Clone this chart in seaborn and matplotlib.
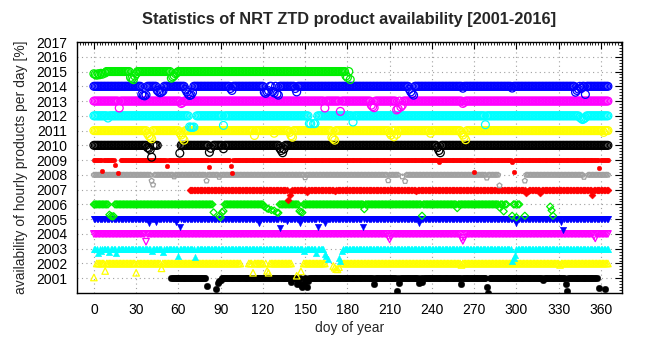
import numpy as np
import pandas as pd
import matplotlib
matplotlib.use("Agg")
import matplotlib.pyplot as plt
import seaborn as sns
from matplotlib.ticker import MultipleLocator

# Años y estilo de cada serie (orden de dibujo: 2001 -> 2015)
years = list(range(2001, 2016))
colors = ['#000000', '#ffff00', '#00ffff', '#ff00ff', '#0000ff', '#00ee00', '#ff0000',
          '#a0a0a0', '#ff0000', '#000000', '#ffff00', '#00ffff', '#ff00ff', '#0000ff', '#00ee00']
markers = ['o', '^', '^', 'v', 'v', 'D', 'D', 'p', 'o', 'o', 'o', 'o', 'o', 'o', 'o']
filled = [True, False, True, False, True, False, True, False, True,
          False, False, False, False, False, False]
sizes = [22, 22, 22, 22, 22, 13, 13, 14, 11, 32, 32, 32, 32, 32, 32]

# Días con disponibilidad completa (100 %): tramos (inicio, fin) por año
coverage = {
    2001: [(55, 79), (90, 357)],
    2002: [(2, 104), (110, 120), (122, 140), (149, 164), (176, 365)],
    2003: [(0, 163), (177, 365)],
    2004: [(0, 365)],
    2005: [(0, 365)],
    2006: [(0, 10), (15, 84), (93, 120), (132, 287), (289, 293), (298, 302)],
    2007: [(68, 365)],
    2008: [(0, 216), (222, 287), (307, 347), (351, 365)],
    2009: [(0, 14), (19, 365)],
    2010: [(0, 37), (42, 45), (62, 81), (85, 131), (136, 243), (247, 365)],
    2011: [(0, 365)],
    2012: [(0, 67), (73, 152), (159, 365)],
    2013: [(0, 365)],
    2014: [(0, 365)],
    2015: [(9, 182)],
}

# Días con disponibilidad reducida: (día, %)
dips = {
    2001: [(80, 47), (87, 30), (88, 70), (89, 80), (90, 88), (140, 75), (144, 60), (145, 80),
           (147, 55), (148, 40), (149, 65), (151, 40), (152, 78), (199, 58), (215, 13), (217, 70),
           (231, 70), (233, 72), (261, 63), (279, 40), (280, 2), (319, 85), (335, 63), (336, 13),
           (359, 35), (363, 24)],
    2002: [(0, 5), (8, 49), (30, 37), (48, 67), (113, 37), (123, 50), (124, 37), (144, 17),
           (147, 47), (170, 83), (171, 72), (172, 62), (173, 60), (174, 75), (261, 90), (331, 90)],
    2003: [(3, 73), (5, 85), (11, 80), (16, 68), (41, 85), (49, 76), (60, 50), (72, 44),
           (149, 87), (158, 73), (164, 67), (165, 52), (166, 33), (174, 40), (175, 17),
           (176, 85), (297, 17), (298, 35), (299, 55)],
    2004: [(37, 47), (209, 80), (210, 63), (211, 85), (261, 70), (262, 53), (263, 75),
           (355, 85), (356, 70)],
    2005: [(39, 75), (44, 80), (58, 78), (61, 48), (117, 72), (132, 42), (137, 85), (146, 76),
           (159, 47), (164, 72), (191, 45), (231, 72), (300, 75), (332, 78), (333, 26)],
    2006: [(11, 30), (12, 22), (13, 18), (14, 20), (85, 46), (89, 20), (90, 12), (91, 46),
           (92, 55), (121, 85), (123, 72), (124, 70), (126, 62), (128, 58), (130, 45), (131, 43),
           (146, 55), (147, 50), (148, 45), (192, 68), (233, 23), (258, 75), (288, 80),
           (291, 53), (297, 23), (300, 13), (306, 23), (324, 85), (325, 60), (326, 23)],
    2007: [(138, 30), (139, 65), (140, 90), (151, 82), (171, 90), (229, 90), (307, 75),
           (308, 88), (317, 80), (354, 66)],
    2008: [(41, 60), (42, 33), (57, 88), (80, 60), (89, 85), (150, 82), (209, 62), (219, 88),
           (221, 57), (279, 80), (288, 28), (306, 60), (348, 85)],
    2009: [(6, 29), (15, 68), (17, 14), (52, 63), (82, 52), (97, 60), (98, 14), (245, 86),
           (270, 18), (297, 86), (298, 18), (359, 45)],
    2010: [(38, 85), (39, 80), (40, 70), (41, 20), (61, 47), (82, 53), (83, 80), (92, 77),
           (132, 80), (133, 65), (134, 50), (135, 75), (244, 85), (245, 65), (246, 50)],
    2011: [(38, 80), (39, 65), (40, 55), (41, 45), (61, 85), (62, 70), (63, 50), (64, 35),
           (114, 67), (128, 82), (139, 88), (140, 65), (141, 55), (169, 55), (170, 45),
           (171, 35), (210, 85), (211, 70), (213, 58), (215, 75), (239, 82), (261, 85),
           (262, 70), (263, 55), (264, 38), (362, 88)],
    2012: [(10, 85), (68, 25), (69, 22), (70, 22), (71, 24), (92, 35), (153, 48), (154, 47),
           (156, 47), (157, 48), (184, 58), (278, 40), (345, 90), (346, 82), (347, 75),
           (348, 80), (349, 88)],
    2013: [(18, 53), (62, 83), (63, 90), (164, 53), (175, 30), (197, 72), (198, 62), (199, 55),
           (215, 40), (216, 48), (218, 60), (219, 72), (262, 84), (263, 92)],
    2014: [(34, 45), (35, 38), (36, 35), (37, 42), (45, 72), (46, 62), (47, 56), (48, 60),
           (49, 68), (65, 80), (66, 62), (67, 48), (68, 38), (69, 42), (70, 58), (97, 85),
           (98, 72), (121, 60), (122, 52), (123, 62), (124, 70), (127, 65), (128, 55),
           (130, 48), (131, 40), (143, 85), (144, 62), (224, 80), (225, 62), (226, 50),
           (227, 40), (262, 87), (297, 88), (342, 60), (343, 72), (344, 82), (346, 85), (349, 45)],
    2015: [(0, 85), (1, 80), (2, 75), (3, 85), (4, 78), (5, 88), (6, 82), (8, 90), (26, 60),
           (27, 53), (28, 45), (29, 70), (30, 85), (55, 55), (56, 64), (57, 72), (58, 85),
           (59, 92), (179, 70), (180, 60), (182, 46)],
}

# Construcción de la tabla larga
filas = []
for yr in years:
    dip_dias = {d for d, _ in dips[yr]}
    for a, b in coverage[yr]:
        for d in range(a, b + 1):
            if d not in dip_dias:
                filas.append((yr, d, 100.0))
    for d, v in dips[yr]:
        filas.append((yr, d, float(v)))
df = pd.DataFrame(filas, columns=['year', 'doy', 'avail'])
df['y'] = df['year'] - 1 + df['avail'] / 100.0

sns.set_theme(style='white')
plt.rcParams['font.family'] = ['Liberation Sans', 'DejaVu Sans']

fig = plt.figure(figsize=(6.47, 3.52), dpi=100)
ax = fig.add_axes([77 / 647, 59 / 352, 545 / 647, 251 / 352])

for i, yr in enumerate(years):
    sub = df[df['year'] == yr]
    if filled[i]:
        sns.scatterplot(x=sub['doy'], y=sub['y'], ax=ax, marker=markers[i], s=sizes[i],
                        color=colors[i], edgecolor=colors[i], linewidth=0.3, legend=False)
    else:
        sns.scatterplot(x=sub['doy'], y=sub['y'], ax=ax, marker=markers[i], s=sizes[i],
                        facecolors='none', edgecolors=colors[i], linewidth=0.9, legend=False)

ax.set_xlim(-12, 375)
ax.set_ylim(2000, 2017)
ax.set_xticks(range(0, 361, 30))
ax.set_yticks(range(2001, 2018))
ax.xaxis.set_minor_locator(MultipleLocator(2))
ax.yaxis.set_minor_locator(MultipleLocator(0.2))
ax.tick_params(which='both', direction='in', top=True, right=True, colors='black',
               labelsize=10)
ax.tick_params(which='major', length=5, width=0.8)
ax.tick_params(which='minor', length=2.5, width=0.6)
ax.tick_params(axis='x', pad=7)
ax.tick_params(axis='y', pad=7)
ax.grid(True, which='major', color='#a0a0a0', linestyle=(0, (1, 3)), linewidth=0.8)
for sp in ax.spines.values():
    sp.set_color('black')
    sp.set_linewidth(1.0)

ax.set_title('Statistics of NRT ZTD product availability [2001-2016]',
             fontsize=11.8, fontweight='bold', pad=13)
ax.set_xlabel('doy of year', fontsize=10, labelpad=3)
ax.set_ylabel('availability of hourly products per day [%]', fontsize=10, labelpad=6)

fig.savefig('out.png', dpi=100)
